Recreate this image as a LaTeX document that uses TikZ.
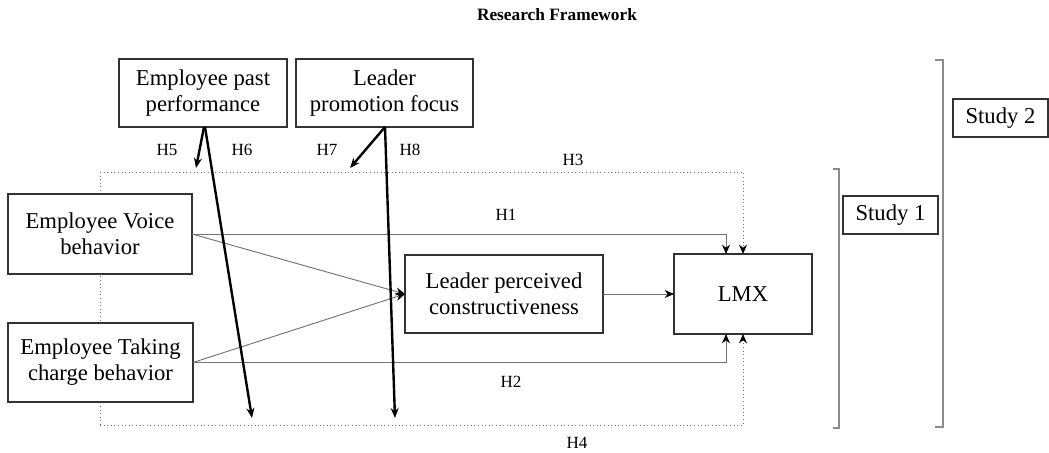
\documentclass[tikz,border=0pt]{standalone}
\usepackage{fontspec}
\setmainfont{Liberation Serif}
\usetikzlibrary{arrows.meta,calc}

\begin{document}
\begin{tikzpicture}[x=0.75pt,y=-0.75pt,
    every node/.style={font=\fontsize{17}{19.5}\selectfont, align=center, inner sep=0pt, outer sep=0pt},
    var/.style={draw=black!80, line width=0.8pt, fill=white},
    hlabel/.style={font=\fontsize{12.8}{14}\selectfont},
    link/.style={draw=black!55, line width=0.7pt, -{Stealth[length=7pt,width=6pt,black]}},
    hypo/.style={draw=black!55, line width=0.7pt, dotted, -{Stealth[length=7pt,width=6pt,black]}},
    moder/.style={black, line width=1.8pt, -{Stealth[length=7.5pt,width=6pt]}},
    bracket/.style={draw=black!45, line width=0.9pt}]
    % page size
    \useasboundingbox (0,0) rectangle (1049,453);

    % Title
    \node[font=\fontsize{13}{15}\selectfont\bfseries] (title) at (557,15) {Research Framework};

    % Dotted frame corners (left side runs behind the boxes)
    \coordinate (tl) at (100,172);
    \coordinate (bl) at (100,425);
    \draw[draw=black!55, line width=0.7pt, dotted] (tl) -- (bl);

    % Variables
    \node[var, minimum width=126pt, minimum height=51pt] (past) at (203,93) {Employee past\\performance};
    \node[var, minimum width=132.75pt, minimum height=51pt] (promo) at (384.5,93) {Leader\\promotion focus};
    \node[var, minimum width=138pt, minimum height=60pt] (voice) at (100,234) {Employee Voice\\behavior};
    \node[var, minimum width=138.75pt, minimum height=59.25pt] (taking) at (100.5,362.5) {Employee Taking\\charge behavior};
    \node[var, minimum width=148.5pt, minimum height=58.5pt] (lpc) at (504,294) {Leader perceived\\constructiveness};
    \node[var, minimum width=103.5pt, minimum height=60pt] (lmx) at (743,294) {LMX};

    % Study boxes
    \node[var, minimum width=71.25pt, minimum height=28.5pt] (study1) at (890.5,215) {Study 1};
    \node[var, minimum width=71.25pt, minimum height=28.5pt] (study2) at (1000.5,118) {Study 2};

    % Direct paths
    \draw[link] (voice.east) -| ($(lmx.north)+(-17,0)$);
    \draw[link] (taking.east) -| ($(lmx.south)+(-17,0)$);
    \draw[link] (voice.east) -- (lpc.west);
    \draw[link] (taking.east) -- (lpc.west);
    \draw[link] (lpc.east) -- (lmx.west);

    % Indirect paths (dotted frame)
    \draw[hypo] (tl) -| (lmx.north);
    \draw[hypo] (bl) -| (lmx.south);

    % Moderators
    \coordinate (h5end) at (196,168);
    \coordinate (h6end) at (252,418);
    \coordinate (h7end) at (350,168);
    \coordinate (h8end) at (395,418);
    \draw[moder] ($(past.south)+(1,0)$) -- (h5end);
    \draw[moder] ($(past.south)+(2,0)$) -- (h6end);
    \draw[moder] ($(promo.south)+(0.5,0)$) -- (h7end);
    \draw[moder] ($(promo.south)+(0.5,0)$) -- (h8end);

    % Hypothesis labels
    \node[hlabel] (h1) at (506,215) {H1};
    \node[hlabel] (h2) at (511,382) {H2};
    \node[hlabel] (h3) at (573,160) {H3};
    \node[hlabel] (h4) at (577,443) {H4};
    \node[hlabel] (h5) at (167,150) {H5};
    \node[hlabel] (h6) at (242,150) {H6};
    \node[hlabel] (h7) at (327,150) {H7};
    \node[hlabel] (h8) at (410,150) {H8};

    % Study brackets
    \draw[bracket] (833,169) -- (839,169) -- (839,428) -- (833,428);
    \draw[bracket] (935,60) -- (943,60) -- (943,427) -- (935,427);
\end{tikzpicture}
\end{document}
